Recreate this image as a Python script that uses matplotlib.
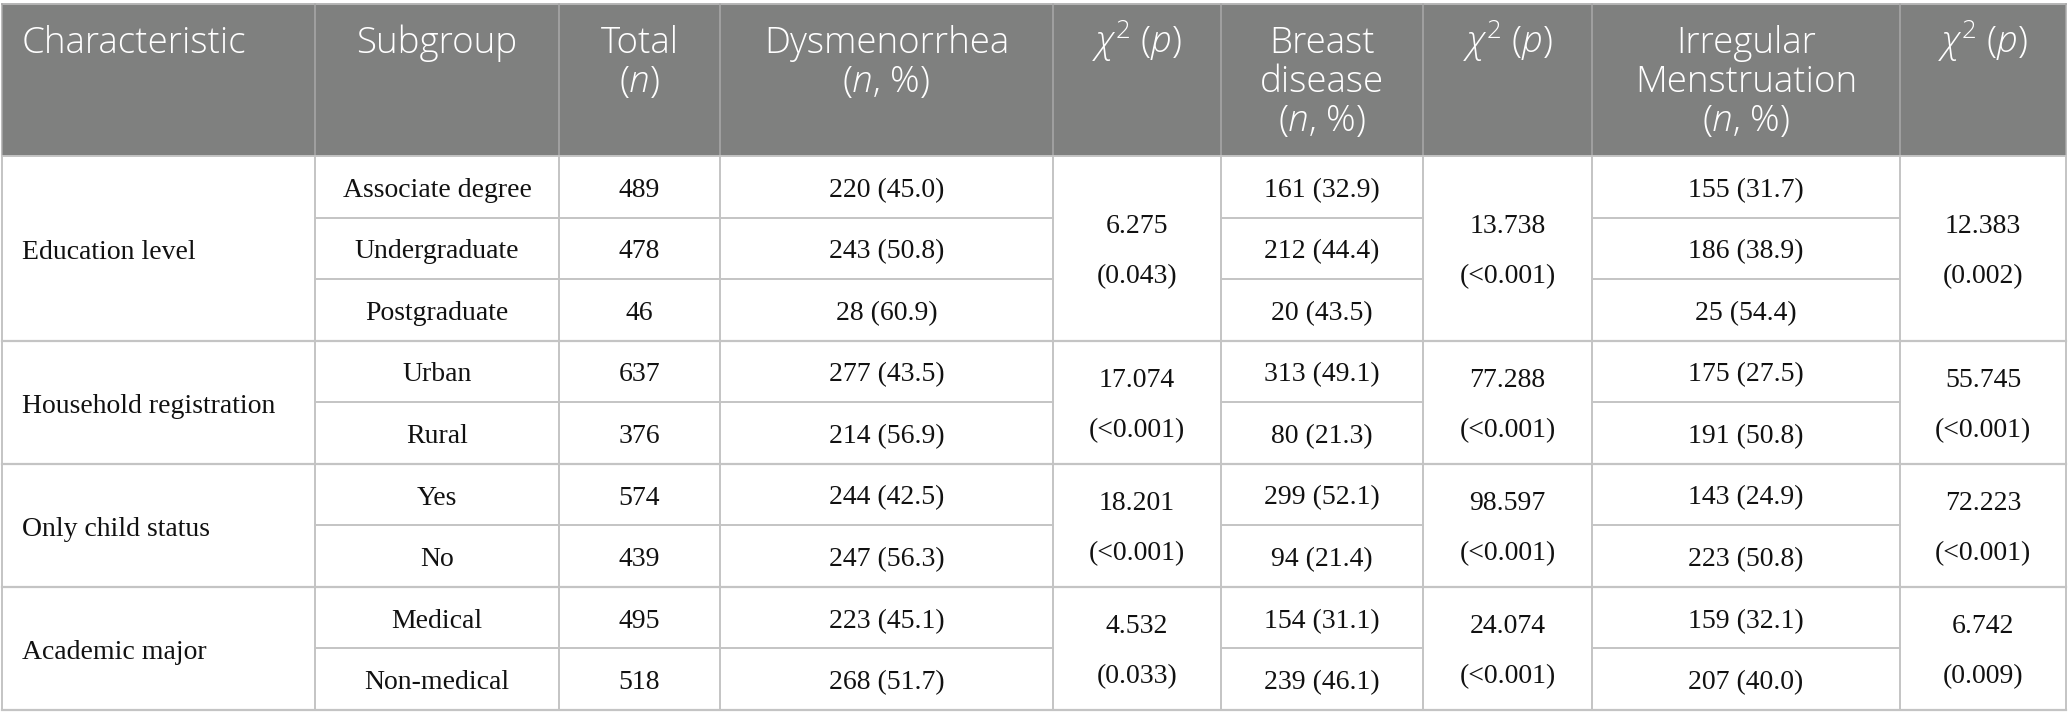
import matplotlib
matplotlib.use("Agg")
import matplotlib.pyplot as plt
from matplotlib.patches import Rectangle

plt.rcParams["mathtext.fontset"] = "custom"
plt.rcParams["mathtext.rm"] = "Open Sans:light"
plt.rcParams["mathtext.it"] = "Open Sans:italic:light"

# Table content
groups = ["Education level", "Household registration", "Only child status", "Academic major"]
subgroups = [
    ["Associate degree", "Undergraduate", "Postgraduate"],
    ["Urban", "Rural"],
    ["Yes", "No"],
    ["Medical", "Non-medical"],
]
totals = [489, 478, 46, 637, 376, 574, 439, 495, 518]
dys_n = [220, 243, 28, 277, 214, 244, 247, 223, 268]
dys_pct = [45.0, 50.8, 60.9, 43.5, 56.9, 42.5, 56.3, 45.1, 51.7]
breast_n = [161, 212, 20, 313, 80, 299, 94, 154, 239]
breast_pct = [32.9, 44.4, 43.5, 49.1, 21.3, 52.1, 21.4, 31.1, 46.1]
irr_n = [155, 186, 25, 175, 191, 143, 223, 159, 207]
irr_pct = [31.7, 38.9, 54.4, 27.5, 50.8, 24.9, 50.8, 32.1, 40.0]
dys_chi = [6.275, 17.074, 18.201, 4.532]
dys_p = ["0.043", "<0.001", "<0.001", "0.033"]
breast_chi = [13.738, 77.288, 98.597, 24.074]
breast_p = ["<0.001", "<0.001", "<0.001", "<0.001"]
irr_chi = [12.383, 55.745, 72.223, 6.742]
irr_p = ["0.002", "<0.001", "<0.001", "0.009"]

chi_head = [r"$\chi^2$ ($p$)"]
headers = [
    ["Characteristic"],
    ["Subgroup"],
    ["Total", "($n$)"],
    ["Dysmenorrhea", "($n$, %)"],
    chi_head,
    ["Breast", "disease", "($n$, %)"],
    chi_head,
    ["Irregular", "Menstruation", "($n$, %)"],
    chi_head,
]

# layout in pixels
W, H = 2068, 727
col_edges = [2, 315, 559, 720, 1053, 1221, 1423, 1592, 1900, 2066]
top, head_bot, row_h = 4, 156, 61.55
head_bg = "#7f807f"
grid = "#c4c4c4"
head_font = "Open Sans"
body_font = "Liberation Serif"
hfs, bfs = 26.5, 20

fig = plt.figure(figsize=(W / 100, H / 100), dpi=100)
ax = fig.add_axes([0, 0, 1, 1])
ax.set_xlim(0, W)
ax.set_ylim(H, 0)
ax.axis("off")

# header
ax.add_patch(Rectangle((col_edges[0], top), col_edges[-1] - col_edges[0], head_bot - top,
                       facecolor=head_bg, edgecolor="none"))
ax.plot([col_edges[0], col_edges[-1]], [top, top], color="#b5b5b5", lw=1.4)
for x in col_edges:
    ax.plot([x, x], [top, head_bot], color="#a9a9a9", lw=1.1)

for i, lines in enumerate(headers):
    x0, x1 = col_edges[i], col_edges[i + 1]
    for j, line in enumerate(lines):
        if i == 0:
            ax.text(x0 + 20, 53 + 39 * j, line, color="white", fontsize=hfs,
                    family=head_font, weight="light", ha="left", va="baseline")
        else:
            ax.text((x0 + x1) / 2, 53 + 39 * j, line, color="white", fontsize=hfs,
                    family=head_font, weight="light", ha="center", va="baseline")

# body
def cx(c):
    return (col_edges[c] + col_edges[c + 1]) / 2

n_rows = sum(len(s) for s in subgroups)
bottom = head_bot + row_h * n_rows
for x in col_edges:
    ax.plot([x, x], [head_bot, bottom], color=grid, lw=1.4)
ax.plot([col_edges[0], col_edges[-1]], [head_bot, head_bot], color=grid, lw=1.4)

ink = "#111111"
r = 0
for g, name in enumerate(groups):
    g_top = head_bot + row_h * r
    g_bot = g_top + row_h * len(subgroups[g])
    g_mid = (g_top + g_bot) / 2
    ax.text(col_edges[0] + 20, g_mid + 11, name, fontsize=bfs, family=body_font,
            ha="left", va="baseline", color=ink)
    for col, chi, p in [(4, dys_chi, dys_p), (6, breast_chi, breast_p), (8, irr_chi, irr_p)]:
        ax.text(cx(col), g_mid - 25 + 10, f"{chi[g]:.3f}", fontsize=bfs, family=body_font,
                ha="center", va="baseline", color=ink)
        ax.text(cx(col), g_mid + 25 + 10, f"({p[g]})", fontsize=bfs, family=body_font,
                ha="center", va="baseline", color=ink)
    for k, sub in enumerate(subgroups[g]):
        y_mid = head_bot + row_h * (r + 0.5)
        cells = [(1, sub), (2, str(totals[r])),
                 (3, f"{dys_n[r]} ({dys_pct[r]:.1f})"),
                 (5, f"{breast_n[r]} ({breast_pct[r]:.1f})"),
                 (7, f"{irr_n[r]} ({irr_pct[r]:.1f})")]
        for c, txt in cells:
            ax.text(cx(c), y_mid + 10, txt, fontsize=bfs, family=body_font,
                    ha="center", va="baseline", color=ink)
        # inner row separators only in per-row columns
        if k < len(subgroups[g]) - 1:
            y_line = head_bot + row_h * (r + 1)
            for c in [1, 2, 3, 5, 7]:
                ax.plot([col_edges[c], col_edges[c + 1]], [y_line, y_line], color=grid, lw=1.4)
        r += 1
    ax.plot([col_edges[0], col_edges[-1]], [g_bot, g_bot], color=grid, lw=1.6)

fig.savefig("out.png", dpi=100, facecolor="white")
